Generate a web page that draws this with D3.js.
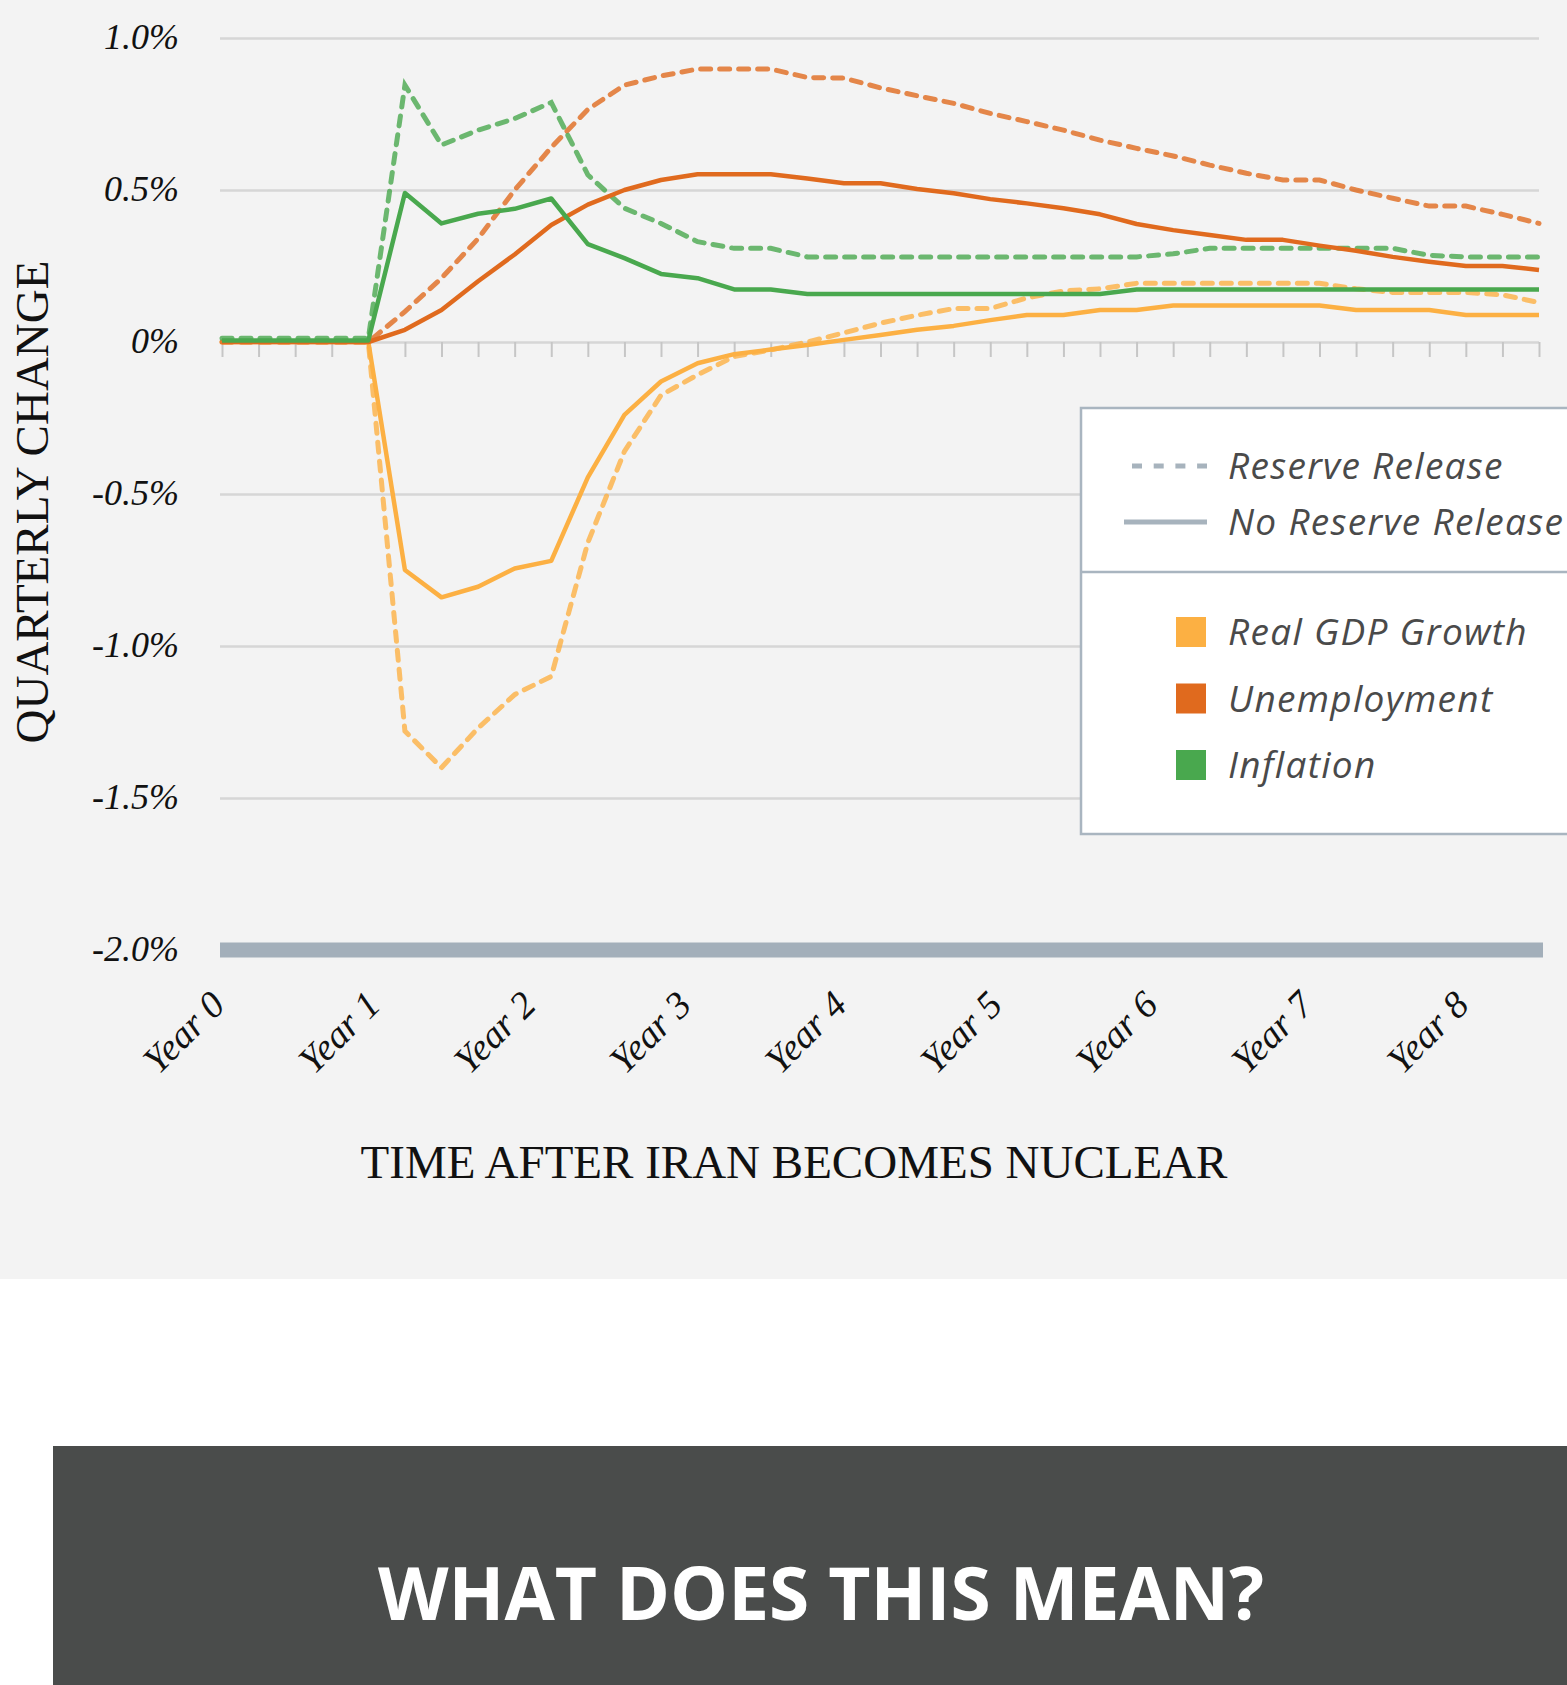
<!DOCTYPE html>
<html>
<head>
<meta charset="utf-8">
<script src="https://cdn.jsdelivr.net/npm/d3@7"></script>
<style>
    html, body { margin: 0; padding: 0; background: #fff; }
    svg { display: block; }
</style>
</head>
<body>
<div id="content"></div>
<script>
/*
    Chart data: one value per quarter (Year 0 .. Year 9), in percent
*/
var quarters = d3.range(37);
var yearLabels = ["Year 0", "Year 1", "Year 2", "Year 3", "Year 4", "Year 5", "Year 6", "Year 7", "Year 8"];
var yTicks = [1.0, 0.5, 0, -0.5, -1.0, -1.5, -2.0];

var gdpReserve = [0, 0, 0, 0, 0, -1.28, -1.40, -1.27, -1.16, -1.10, -0.66, -0.36, -0.175, -0.108, -0.048, -0.026,
    0.0, 0.03, 0.062, 0.088, 0.11, 0.11, 0.145, 0.168, 0.175, 0.193, 0.193, 0.193, 0.193, 0.193, 0.193,
    0.175, 0.163, 0.163, 0.163, 0.155, 0.13];
var gdpNoReserve = [0, 0, 0, 0, 0, -0.75, -0.84, -0.805, -0.745, -0.72, -0.445, -0.24, -0.13, -0.07, -0.04, -0.025,
    -0.01, 0.007, 0.023, 0.04, 0.053, 0.072, 0.089, 0.089, 0.105, 0.105, 0.12, 0.12, 0.12, 0.12, 0.12,
    0.105, 0.105, 0.105, 0.089, 0.089, 0.089];
var unempReserve = [0, 0, 0, 0, 0, 0.1, 0.21, 0.34, 0.5, 0.64, 0.765, 0.845, 0.875, 0.898, 0.898, 0.898,
    0.87, 0.868, 0.836, 0.81, 0.785, 0.752, 0.725, 0.697, 0.664, 0.637, 0.612, 0.582, 0.555, 0.533, 0.533,
    0.5, 0.473, 0.447, 0.447, 0.42, 0.39];
var unempNoReserve = [0, 0, 0, 0, 0, 0.04, 0.105, 0.2, 0.288, 0.385, 0.452, 0.5, 0.533, 0.552, 0.552, 0.552,
    0.538, 0.522, 0.522, 0.503, 0.489, 0.47, 0.456, 0.44, 0.42, 0.388, 0.368, 0.352, 0.336, 0.336, 0.317,
    0.3, 0.28, 0.264, 0.25, 0.25, 0.237];
var inflReserve = [0.012, 0.012, 0.012, 0.012, 0.012, 0.845, 0.648, 0.697, 0.735, 0.788, 0.55, 0.44, 0.39, 0.33, 0.308, 0.308,
    0.28, 0.28, 0.28, 0.28, 0.28, 0.28, 0.28, 0.28, 0.28, 0.28, 0.29, 0.308, 0.308, 0.308, 0.308,
    0.308, 0.308, 0.285, 0.28, 0.28, 0.28];
var inflNoReserve = [0.005, 0.005, 0.005, 0.005, 0.005, 0.49, 0.39, 0.422, 0.438, 0.472, 0.322, 0.276, 0.224, 0.21, 0.173, 0.173,
    0.158, 0.158, 0.158, 0.158, 0.158, 0.158, 0.158, 0.158, 0.158, 0.173, 0.173, 0.173, 0.173, 0.173, 0.173,
    0.173, 0.173, 0.173, 0.173, 0.173, 0.173];

var seriesNames = ["Real GDP Growth", "Unemployment", "Inflation"];
var scenarioNames = ["Reserve Release", "No Reserve Release"];

/*
    Styling
*/
var seriesColors = ["#fcb043", "#e06a1e", "#49a84e"];
var legendGray = "#a7b3bd";
var serif = "'Liberation Serif', 'DejaVu Serif', serif";
var sans = "'Open Sans', 'Noto Sans', sans-serif";

var series = [
    { name: seriesNames[0], color: seriesColors[0], reserve: gdpReserve, noReserve: gdpNoReserve },
    { name: seriesNames[1], color: seriesColors[1], reserve: unempReserve, noReserve: unempNoReserve },
    { name: seriesNames[2], color: seriesColors[2], reserve: inflReserve, noReserve: inflNoReserve }
];

var W = 1567, H = 1685;
var svg = d3.select("#content").append("svg")
    .attr("width", W)
    .attr("height", H);

/*
    Panel backgrounds
*/
svg.append("rect")
    .attr("width", W)
    .attr("height", 1279)
    .attr("fill", "#f3f3f3");

/*
    Scales
*/
var x = d3.scaleLinear().domain([0, quarters.length - 1]).range([222, 1539]);
var y = d3.scaleLinear().domain([-2, 1]).range([950, 38]);
var yearX = d3.scaleLinear().domain([0, yearLabels.length - 1]).range([x(0), x(34)]);

function fmtPct(v) {
    return v === 0 ? "0%" : v.toFixed(1) + "%";
}

/*
    Gridlines (the -2.0% line is drawn as the heavy base bar)
*/
svg.append("g")
    .attr("transform", "translate(220,0)")
    .call(d3.axisRight(y)
        .tickValues(yTicks.filter(function (v) { return v > -2; }))
        .tickSize(x(quarters.length - 1) - 220)
        .tickFormat(""))
    .call(function (g) { g.select(".domain").remove(); })
    .selectAll("line")
    .attr("stroke", "#d6d6d6")
    .attr("stroke-width", 2.5);

/*
    Quarter tick marks under the zero line
*/
svg.append("g")
    .attr("transform", "translate(0," + y(0) + ")")
    .call(d3.axisBottom(x).tickValues(quarters).tickSize(15).tickFormat(""))
    .call(function (g) { g.select(".domain").remove(); })
    .selectAll("line")
    .attr("stroke", "#c6c6c6")
    .attr("stroke-width", 2);

svg.append("line")
    .attr("x1", x(0) - 2)
    .attr("x2", x(quarters.length - 1) + 4)
    .attr("y1", y(-2))
    .attr("y2", y(-2))
    .attr("stroke", "#a3afba")
    .attr("stroke-width", 15);

/*
    Y tick labels
*/
svg.append("g")
    .attr("transform", "translate(179,0)")
    .call(d3.axisLeft(y).tickValues(yTicks).tickSize(0).tickPadding(0).tickFormat(fmtPct))
    .call(function (g) { g.select(".domain").remove(); })
    .selectAll("text")
    .attr("font-family", serif)
    .attr("font-style", "italic")
    .attr("font-size", 36)
    .attr("fill", "#111")
    .attr("dy", "0.3em");

/*
    Year labels, rotated
*/
svg.append("g")
    .selectAll("text")
    .data(yearLabels)
    .join("text")
    .attr("transform", function (d, i) {
        return "translate(" + (yearX(i) + 5) + ",1007) rotate(-45)";
    })
    .attr("text-anchor", "end")
    .attr("font-family", serif)
    .attr("font-style", "italic")
    .attr("font-size", 38)
    .attr("fill", "#111")
    .text(function (d) { return d; });

/*
    Axis titles
*/
svg.append("text")
    .attr("transform", "translate(48,502) rotate(-90)")
    .attr("text-anchor", "middle")
    .attr("font-family", serif)
    .attr("font-size", 47)
    .attr("fill", "#111")
    .text("QUARTERLY CHANGE");

svg.append("text")
    .attr("x", 794)
    .attr("y", 1178)
    .attr("text-anchor", "middle")
    .attr("font-family", serif)
    .attr("font-size", 47)
    .attr("fill", "#111")
    .text("TIME AFTER IRAN BECOMES NUCLEAR");

/*
    Lines: dashed = reserve release, solid = no reserve release
*/
var line = d3.line()
    .x(function (d, i) { return x(quarters[i]); })
    .y(function (d) { return y(d); });

svg.append("g")
    .selectAll("path")
    .data(series)
    .join("path")
    .attr("d", function (d) { return line(d.reserve); })
    .attr("fill", "none")
    .attr("stroke", function (d) { return d.color; })
    .attr("stroke-opacity", 0.8)
    .attr("stroke-width", 5)
    .attr("stroke-dasharray", "10,9")
    .attr("stroke-linecap", "round");

svg.append("g")
    .selectAll("path")
    .data(series)
    .join("path")
    .attr("d", function (d) { return line(d.noReserve); })
    .attr("fill", "none")
    .attr("stroke", function (d) { return d.color; })
    .attr("stroke-width", 4.5)
    .attr("stroke-linejoin", "round");

/*
    Legend box
*/
var legend = svg.append("g");
legend.append("rect")
    .attr("x", 1081)
    .attr("y", 408)
    .attr("width", 620)
    .attr("height", 426)
    .attr("fill", "#fff")
    .attr("stroke", "#a9b5c0")
    .attr("stroke-width", 2.5);
legend.append("line")
    .attr("x1", 1081).attr("x2", W)
    .attr("y1", 572).attr("y2", 572)
    .attr("stroke", "#a9b5c0")
    .attr("stroke-width", 2.5);

var scenarioRows = legend.selectAll("g.scn")
    .data(scenarioNames)
    .join("g")
    .attr("class", "scn")
    .attr("transform", function (d, i) { return "translate(0," + (466 + i * 56) + ")"; });
scenarioRows.append("line")
    .attr("x1", function (d, i) { return i === 0 ? 1132 : 1124; })
    .attr("x2", 1207)
    .attr("stroke", legendGray)
    .attr("stroke-width", 5)
    .attr("stroke-dasharray", function (d, i) { return i === 0 ? "10,11.7" : null; });
scenarioRows.append("text")
    .attr("x", 1228)
    .attr("y", 13)
    .attr("font-family", sans)
    .attr("font-style", "italic")
    .attr("font-size", 37)
    .attr("letter-spacing", 1.3)
    .attr("fill", "#4a4a4a")
    .text(function (d) { return d; });

var seriesRows = legend.selectAll("g.ser")
    .data(series)
    .join("g")
    .attr("class", "ser")
    .attr("transform", function (d, i) { return "translate(0," + (617 + i * 66.5) + ")"; });
seriesRows.append("rect")
    .attr("x", 1176)
    .attr("width", 30)
    .attr("height", 30)
    .attr("fill", function (d) { return d.color; });
seriesRows.append("text")
    .attr("x", 1228)
    .attr("y", 28)
    .attr("font-family", sans)
    .attr("font-style", "italic")
    .attr("font-size", 37)
    .attr("letter-spacing", 1.3)
    .attr("fill", "#4a4a4a")
    .text(function (d) { return d.name; });

/*
    Footer banner
*/
svg.append("rect")
    .attr("x", 53)
    .attr("y", 1446)
    .attr("width", W - 53)
    .attr("height", H - 1446)
    .attr("fill", "#4a4c4b");
svg.append("text")
    .attr("x", 821)
    .attr("y", 1620)
    .attr("text-anchor", "middle")
    .attr("font-family", sans)
    .attr("font-weight", 700)
    .attr("font-size", 73)
    .attr("fill", "#fff")
    .text("WHAT DOES THIS MEAN?");
</script>
</body>
</html>
